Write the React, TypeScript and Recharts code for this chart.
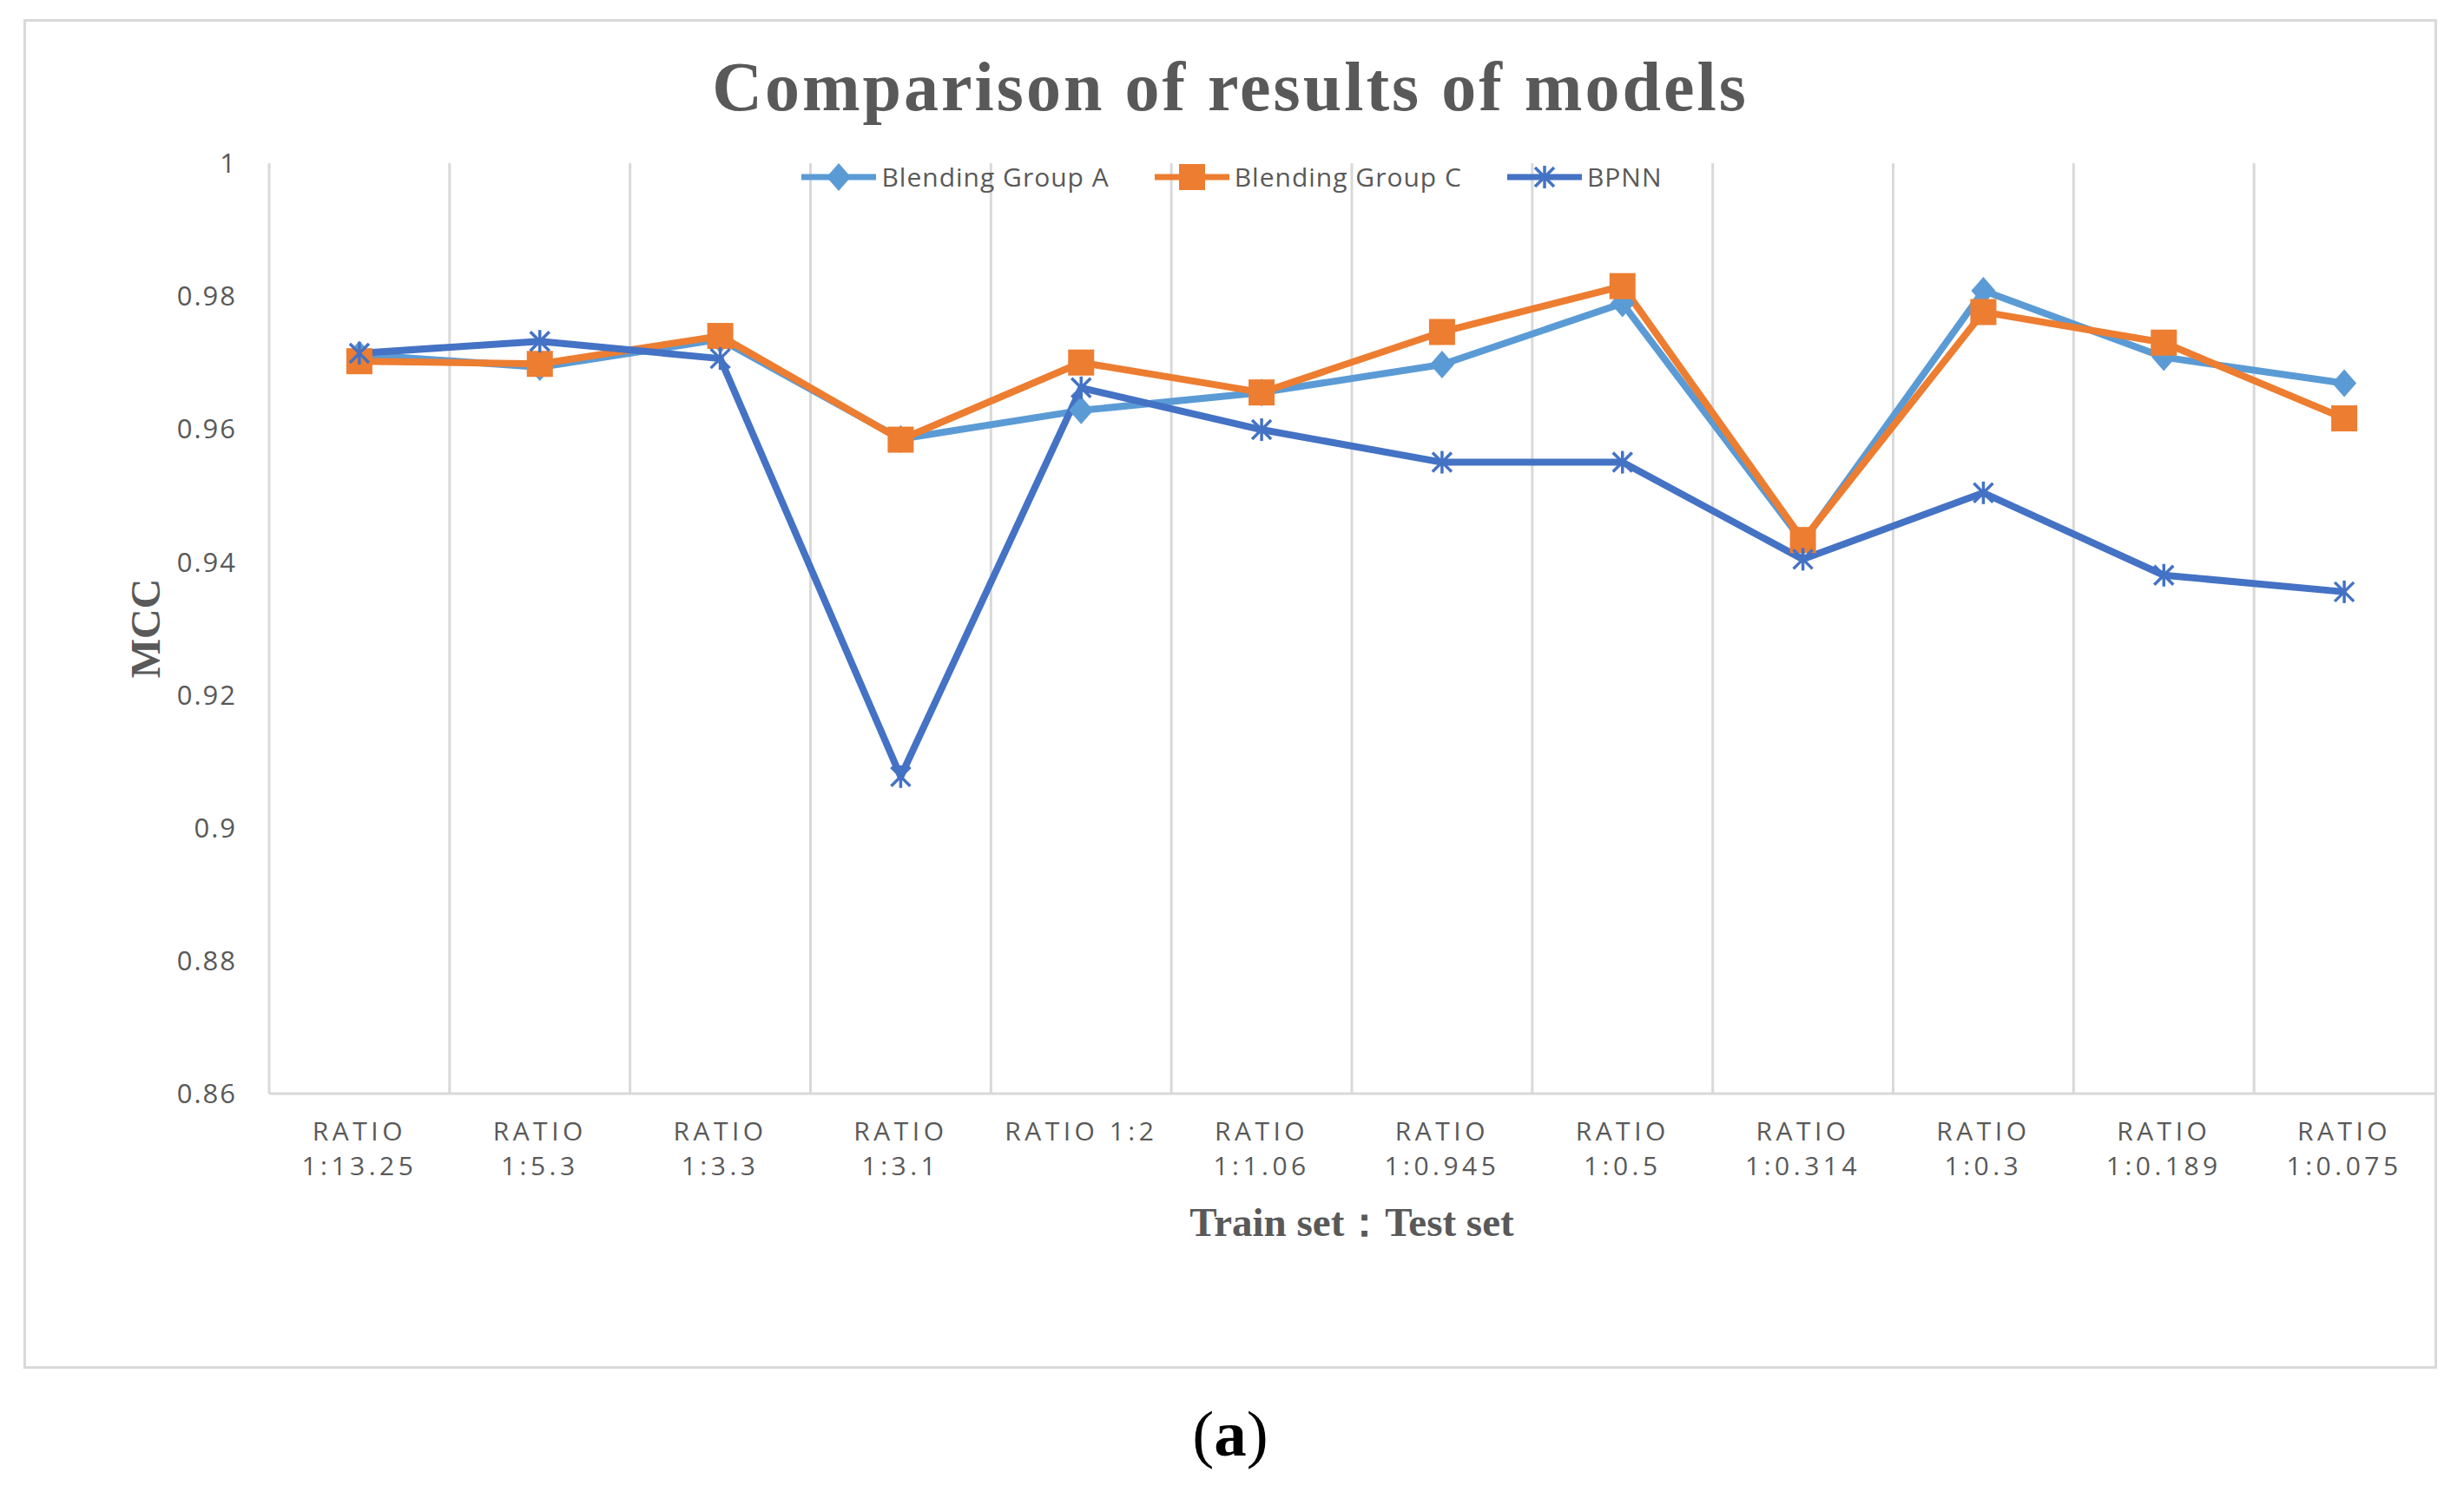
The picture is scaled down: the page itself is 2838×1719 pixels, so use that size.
import React from 'react';
import { LineChart, Line, XAxis, YAxis, ReferenceLine, Legend } from 'recharts';

// values
const categories = [
  'RATIO 1:13.25', 'RATIO 1:5.3', 'RATIO 1:3.3', 'RATIO 1:3.1', 'RATIO 1:2', 'RATIO 1:1.06',
  'RATIO 1:0.945', 'RATIO 1:0.5', 'RATIO 1:0.314', 'RATIO 1:0.3', 'RATIO 1:0.189', 'RATIO 1:0.075',
];
const groupA = [0.9712, 0.9693, 0.9735, 0.9585, 0.9628, 0.9655, 0.9697, 0.9789, 0.943, 0.9808, 0.9708, 0.9669];
const groupC = [0.9702, 0.9698, 0.974, 0.9584, 0.97, 0.9655, 0.9746, 0.9815, 0.9433, 0.9776, 0.973, 0.9616];
const bpnn = [0.9714, 0.9732, 0.9706, 0.9077, 0.9662, 0.9599, 0.955, 0.955, 0.9404, 0.9504, 0.938, 0.9355];
const yTicks = [0.86, 0.88, 0.9, 0.92, 0.94, 0.96, 0.98, 1];

const data = categories.map((name, i) => ({
  name,
  groupA: groupA[i],
  groupC: groupC[i],
  bpnn: bpnn[i],
}));

const W = 2838;
const H = 1719;
const GRID = '#d9d9d9';
const TEXT = '#595959';
const SANS = '"Open Sans", "Liberation Sans", sans-serif';
const SERIF = '"Liberation Serif", "DejaVu Serif", serif';

const series = [
  { key: 'groupA', name: 'Blending Group A', color: '#5B9BD5', kind: 'diamond' },
  { key: 'groupC', name: 'Blending Group C', color: '#ED7D31', kind: 'square' },
  { key: 'bpnn', name: 'BPNN', color: '#4472C4', kind: 'star' },
];

const Marker = ({ kind, cx, cy, color }: { kind: string; cx: number; cy: number; color: string }) => {
  if (kind === 'diamond') {
    return <polygon points={`${cx},${cy - 16} ${cx + 14},${cy} ${cx},${cy + 16} ${cx - 14},${cy}`} fill={color} />;
  }
  if (kind === 'square') {
    return <rect x={cx - 15} y={cy - 15} width={30} height={30} fill={color} />;
  }
  return (
    <g stroke={color} strokeWidth={3.5}>
      <line x1={cx} y1={cy - 13} x2={cx} y2={cy + 13} />
      <line x1={cx - 11} y1={cy - 11} x2={cx + 11} y2={cy + 11} />
      <line x1={cx - 11} y1={cy + 11} x2={cx + 11} y2={cy - 11} />
    </g>
  );
};

const makeDot = (kind: string, color: string) => (props: any) => {
  const { cx, cy, index } = props;
  if (cx == null || cy == null) return <g key={index} />;
  return <Marker key={index} kind={kind} cx={cx} cy={cy} color={color} />;
};

const XTick = ({ x, y, payload }: any) => {
  const [head, tail] = String(payload.value).split(' ');
  const lines = tail.length <= 3 ? [payload.value] : [head, tail];
  return (
    <g>
      {lines.map((t, i) => (
        <text
          key={i}
          x={x}
          y={y + 52 + i * 40}
          textAnchor="middle"
          fill={TEXT}
          style={{ fontFamily: SANS, fontSize: 30, letterSpacing: 4.5 }}
        >
          {t}
        </text>
      ))}
    </g>
  );
};

const YTick = ({ x, y, payload }: any) => (
  <text
    x={x - 35}
    y={y}
    dy="0.36em"
    textAnchor="end"
    fill={TEXT}
    style={{ fontFamily: SANS, fontSize: 31, letterSpacing: 2 }}
  >
    {String(Number(payload.value.toFixed(2)))}
  </text>
);

const renderLegend = () => (
  <div style={{ display: 'flex', justifyContent: 'center', alignItems: 'center', gap: 52 }}>
    {series.map(s => (
      <span key={s.key} style={{ display: 'flex', alignItems: 'center' }}>
        <svg width={86} height={36}>
          <line x1={0} y1={18} x2={86} y2={18} stroke={s.color} strokeWidth={7} strokeLinecap="round" />
          <Marker kind={s.kind} cx={43} cy={18} color={s.color} />
        </svg>
        <span style={{ marginLeft: 6, fontFamily: SANS, fontSize: 30, letterSpacing: 1, color: TEXT }}>{s.name}</span>
      </span>
    ))}
  </div>
);

export default function App() {
  return (
    <div style={{ position: 'absolute', left: 0, top: 0, width: W, height: H, background: '#fff' }}>
      <div
        style={{
          position: 'absolute', left: 27, top: 22, width: 2780, height: 1555,
          border: `3px solid ${GRID}`, boxSizing: 'border-box',
        }}
      />
      <div style={{ position: 'absolute', left: 0, top: 0 }}>
        <LineChart width={W} height={H} data={data} margin={{ top: 188, right: 34, bottom: 0, left: 0 }}>
          {categories.map(c => (
            <ReferenceLine key={c} x={c} position="start" stroke={GRID} strokeWidth={3} />
          ))}
          <XAxis
            dataKey="name"
            scale="band"
            height={459}
            interval={0}
            tickLine={false}
            tickSize={0}
            axisLine={{ stroke: GRID, strokeWidth: 3 }}
            tick={XTick}
          />
          <YAxis
            type="number"
            domain={[0.86, 1]}
            ticks={yTicks}
            width={310}
            axisLine={false}
            tickLine={false}
            tickSize={0}
            tick={YTick}
            allowDataOverflow
          />
          <Legend
            layout="horizontal"
            verticalAlign="middle"
            align="center"
            content={renderLegend}
            wrapperStyle={{ position: 'absolute', top: 183, left: 0, width: W, height: 40 }}
          />
          {series.map(s => (
            <Line
              key={s.key}
              type="linear"
              dataKey={s.key}
              name={s.name}
              stroke={s.color}
              strokeWidth={8}
              strokeLinejoin="round"
              dot={makeDot(s.kind, s.color)}
              activeDot={false}
              isAnimationActive={false}
            />
          ))}
        </LineChart>
      </div>
      <svg width={W} height={H} style={{ position: 'absolute', left: 0, top: 0, pointerEvents: 'none' }}>
        <text
          x={1417}
          y={127}
          textAnchor="middle"
          fill={TEXT}
          style={{ fontFamily: SERIF, fontSize: 80, fontWeight: 'bold', letterSpacing: 3 }}
        >
          Comparison of results of models
        </text>
        <text
          x={1557}
          y={1424}
          textAnchor="middle"
          fill={TEXT}
          style={{ fontFamily: SERIF, fontSize: 47, fontWeight: 'bold' }}
        >
          Train set：Test set
        </text>
        <text
          x={167}
          y={724}
          textAnchor="middle"
          dominantBaseline="central"
          transform="rotate(-90 167 724)"
          fill={TEXT}
          style={{ fontFamily: SERIF, fontSize: 48, fontWeight: 'bold' }}
        >
          MCC
        </text>
        <text
          x={1417}
          y={1651}
          textAnchor="middle"
          dominantBaseline="central"
          fill="#000"
          style={{ fontFamily: SERIF, fontSize: 75 }}
        >
          (<tspan fontWeight="bold">a</tspan>)
        </text>
      </svg>
    </div>
  );
}
